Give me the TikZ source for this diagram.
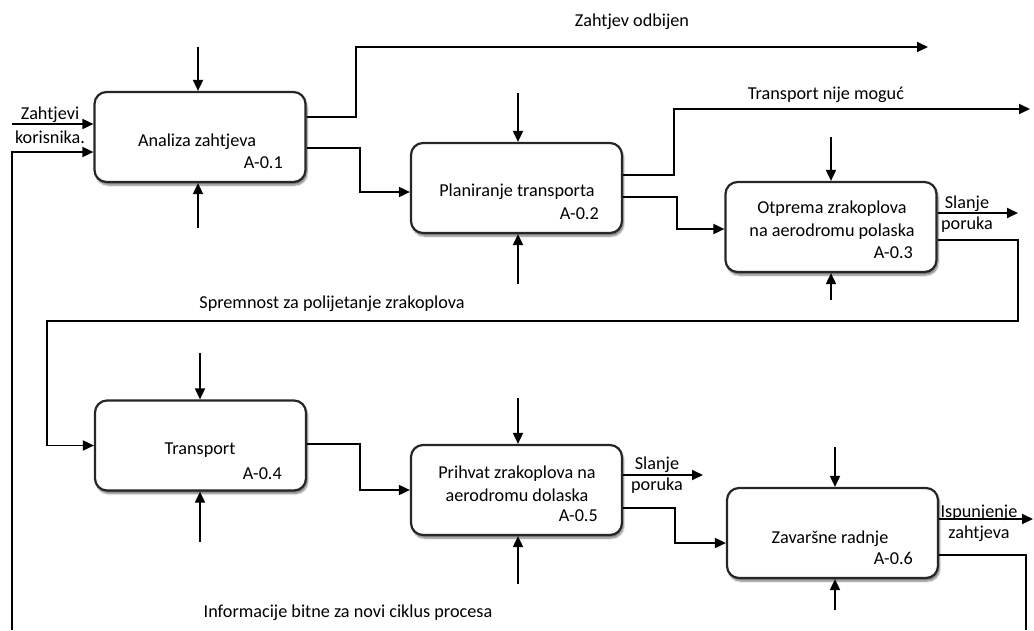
\documentclass[tikz,border=0pt]{standalone}
\usepackage{fontspec}
\setmainfont{Carlito}
\usetikzlibrary{arrows.meta,shadows.blur}
\pgfdeclareverticalshading{boxshade}{100bp}{color(0bp)=(black!30); color(10bp)=(black!8); color(28bp)=(white); color(100bp)=(white)}
\begin{document}
\begin{tikzpicture}[x=1pt,y=-1pt,
  box/.style={draw=black!85, line width=2.2pt, rounded corners=12pt,
    minimum width=211pt, minimum height=90pt,
    shading=boxshade,
    blur shadow={shadow xshift=1.5pt, shadow yshift=-3pt, shadow opacity=55, shadow blur steps=6}},
  conn/.style={line width=1.8pt, -{Triangle[length=11pt,width=10pt]}},
  thinline/.style={line width=1.1pt},
  lbl/.style={font=\fontsize{18.2}{22}\selectfont, inner sep=0pt, anchor=base},
  lbltwo/.style={font=\fontsize{18.2}{21}\selectfont, inner sep=0pt, align=center},
  lblbox/.style={font=\fontsize{18.2}{23}\selectfont, inner sep=0pt, align=center},
]
\useasboundingbox (0,0) rectangle (1034,630);

% boxes
\node[box] (b1) at (200,137) {};
\node[box] (b2) at (516.5,188) {};
\node[box] (b3) at (831,227) {};
\node[box] (b4) at (200.5,445.5) {};
\node[box] (b5) at (516.5,490) {};
\node[box] (b6) at (832.5,533) {};

% box texts
\node[lbl] (t1) at (197,146) {Analiza zahtjeva};
\node[lbl,anchor=base east] (n1) at (283,168) {A-0.1};
\node[lbl] (t2) at (517,196) {Planiranje transporta};
\node[lbl,anchor=base east] (n2) at (599,219) {A-0.2};
\node[lblbox] (t3) at (832,220) {Otprema zrakoplova\\na aerodromu polaska};
\node[lbl,anchor=base east] (n3) at (913,258) {A-0.3};
\node[lbl] (t4) at (200,454) {Transport};
\node[lbl,anchor=base east] (n4) at (282,479) {A-0.4};
\node[lblbox] (t5) at (517,483.5) {Prihvat zrakoplova na\\aerodromu dolaska};
\node[lbl,anchor=base east] (n5) at (598,521) {A-0.5};
\node[lbl] (t6) at (830,543) {Zavaršne radnje};
\node[lbl,anchor=base east] (n6) at (913,564) {A-0.6};

% free ends
\coordinate (in1) at (12,124);
\coordinate (c1) at (198,47);
\coordinate (m1) at (198,228);
\coordinate (c2) at (518,93);
\coordinate (m2) at (518,284);
\coordinate (c3) at (831,137);
\coordinate (m3) at (831,300);
\coordinate (c4) at (200,353);
\coordinate (m4) at (200,542);
\coordinate (c5) at (518,398);
\coordinate (m5) at (518,584);
\coordinate (c6) at (835,447);
\coordinate (m6) at (835,610);
\coordinate (o1) at (928,47);
\coordinate (o2) at (1030,109);
\coordinate (o3) at (1018,213);
\coordinate (o5) at (703,475);
\coordinate (o6) at (1033,519);
\coordinate (r3) at (1018,321);
\coordinate (l4) at (47,321);
\coordinate (e6) at (1026,630);
\coordinate (f1) at (12,630);

% controls and mechanisms
\draw[conn] (c1) -- (c1 |- b1.north);
\draw[conn] (m1) -- (m1 |- b1.south);
\draw[conn] (c2) -- (c2 |- b2.north);
\draw[conn] (m2) -- (m2 |- b2.south);
\draw[conn] (c3) -- (c3 |- b3.north);
\draw[conn] (m3) -- (m3 |- b3.south);
\draw[conn] (c4) -- (c4 |- b4.north);
\draw[conn] (m4) -- (m4 |- b4.south);
\draw[conn] (c5) -- (c5 |- b5.north);
\draw[conn] (m5) -- (m5 |- b5.south);
\draw[conn] (c6) -- (c6 |- b6.north);
\draw[conn] (m6) -- (m6 |- b6.south);

% flows
\draw[conn] (in1) -- (in1 -| b1.west);
\draw[conn] (f1) |- ([yshift=-15pt]b1.west);
\draw[conn] ([yshift=20pt]b1.east) -- ++(49,0) |- (o1);
\draw[conn] ([yshift=-11pt]b1.east) -- ++(53,0) |- ([yshift=-4pt]b2.west);
\draw[conn] ([yshift=13pt]b2.east) -- ++(51,0) |- (o2);
\draw[conn] ([yshift=-9pt]b2.east) -- ++(54,0) |- ([yshift=-2pt]b3.west);
\draw[conn] ([yshift=14pt]b3.east) -- (o3);
\draw[conn] ([yshift=-13pt]b3.east) -| (r3) -- (l4) |- (b4.west);
\draw[conn] ([yshift=1.5pt]b4.east) -- ++(53,0) |- (b5.west);
\draw[conn] ([yshift=15pt]b5.east) -- (o5);
\draw[conn] ([yshift=-18pt]b5.east) -- ++(52,0) |- ([yshift=-10pt]b6.west);
\draw[conn] ([yshift=14pt]b6.east) -- (o6);
\draw[thinline] ([yshift=-22pt]b6.east) -| (e6);

% labels
\node[lbltwo,font=\fontsize{18.2}{24}\selectfont] (lin) at (50,125.5) {Zahtjevi\\korisnika.};
\node[lbl] (lodb) at (632,26) {Zahtjev odbijen};
\node[lbl] (lnm) at (826,99) {Transport nije moguć};
\node[lbltwo] (ls3) at (967,214) {Slanje\\poruka};
\node[lbl] (lsp) at (332,308) {Spremnost za polijetanje zrakoplova};
\node[lbltwo] (ls5) at (657,475.5) {Slanje\\poruka};
\node[lbltwo] (lisp) at (979,523) {Ispunjenje\\zahtjeva};
\node[lbl] (linf) at (348,617) {Informacije bitne za novi ciklus procesa};
\end{tikzpicture}
\end{document}
